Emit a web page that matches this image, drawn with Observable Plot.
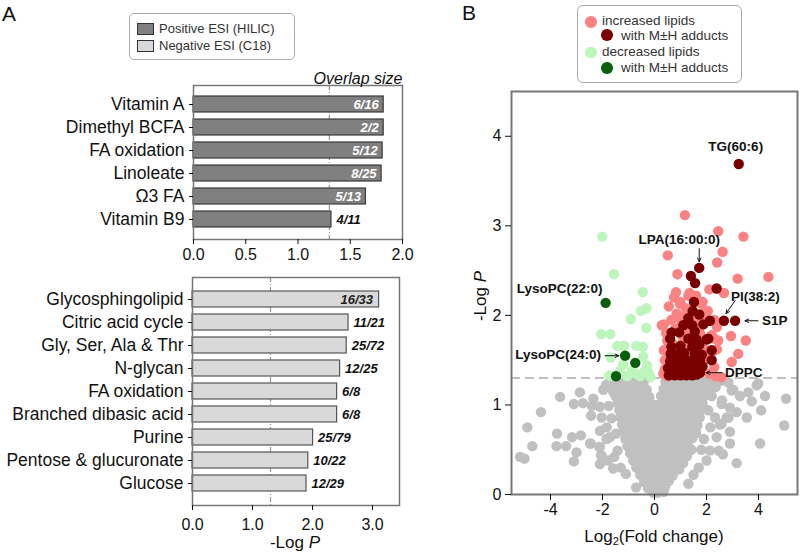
<!DOCTYPE html>
<html><head><meta charset="utf-8">
<script src="https://cdn.jsdelivr.net/npm/d3@7"></script>
<script src="https://cdn.jsdelivr.net/npm/@observablehq/plot@0.6"></script>
<style>
body{margin:0;background:#fff;font-family:Arial,"Liberation Sans",sans-serif;color:#111;}
#root{position:relative;width:800px;height:554px;overflow:hidden;background:#fff;}
.abs{position:absolute;white-space:nowrap;line-height:1;}
.box{position:absolute;border:1px solid #aaa;border-radius:6px;background:#fff;}
.sw{position:absolute;border:1px solid #333;}
.dotl{position:absolute;border-radius:50%;}
</style></head><body><div id="root"></div>
<script>
// ---------- Panel A data ----------
const posCategories = ["Vitamin A","Dimethyl BCFA","FA oxidation","Linoleate","Ω3 FA","Vitamin B9"];
const posValues = [1.82,1.82,1.81,1.80,1.65,1.32];
const posOverlap = ["6/16","2/2","5/12","8/25","5/13","4/11"];
const negCategories = ["Glycosphingolipid","Citric acid cycle","Gly, Ser, Ala & Thr","N-glycan","FA oxidation","Branched dibasic acid","Purine","Pentose & glucuronate","Glucose"];
const negValues = [3.11,2.60,2.57,2.46,2.41,2.41,2.01,1.93,1.90];
const negOverlap = ["16/33","11/21","25/72","12/25","6/8","6/8","25/79","10/22","12/29"];
const threshold = 1.3;
const posTicks = [0,0.5,1,1.5,2];
const negTicks = [0,1,2,3];

// ---------- Panel B data (log2 fold change, -log P) ----------
const increasedLipids = [[1.17,3.12],[2.45,2.94],[3.42,2.88],[2.62,2.71],[0.51,2.67],[2.41,2.59],[0.88,2.46],[3.2,2.41],[4.38,2.43],[0.83,2.26],[2.11,2.29],[2.67,2.25],[1.3,2.22],[0.98,2.13],[1.81,2.13],[0.85,2.02],[1.87,2.02],[0.36,1.9],[0.28,1.89],[2.4,1.87],[2.94,1.77],[3.51,1.72],[3.22,1.57],[2.97,1.48],[2.58,1.31],[2.13,1.53],[0.34,1.35],[0.49,1.72],[0.36,1.61],[2.3,1.74],[2.4,1.62],[0.55,2.1],[0.75,2.2],[1.0,2.15],[1.2,2.08],[1.35,2.25],[1.6,2.22],[1.85,2.15],[2.05,2.05],[0.65,1.95],[0.9,1.98],[1.2,2.0],[1.6,1.95],[1.95,1.98],[2.3,1.95],[0.45,1.8],[0.8,1.85],[1.35,1.82],[1.75,1.8],[2.2,1.78],[2.45,1.72],[0.45,1.62],[0.7,1.68],[1.1,1.7],[1.5,1.7],[1.95,1.62],[2.25,1.6],[0.4,1.5],[0.65,1.52],[1.4,1.55],[1.95,1.5],[2.3,1.42],[0.4,1.4],[2.1,1.35],[0.5,1.32],[2.35,1.32],[1.05,1.78],[0.85,1.62],[1.25,1.6],[1.65,1.6],[1.05,1.9],[1.7,1.88]];
const increasedAdducts = [[3.24,3.69],[1.72,2.53],[1.40,2.44],[1.56,2.36],[2.39,2.30],[1.52,2.15],[1.47,2.05],[1.72,2.01],[2.67,1.94],[3.10,1.94],[2.13,1.94],[1.88,1.90],[1.11,1.89],[0.66,1.81],[2.07,1.74],[2.2,1.61],[2.2,1.5],[1.75,1.36],
 [0.55,1.33],[0.78,1.33],[1.0,1.33],[1.22,1.33],[1.45,1.33],[1.62,1.34],
 [0.52,1.41],[0.74,1.41],[0.97,1.41],[1.2,1.41],[1.42,1.41],[1.65,1.42],[1.85,1.43],
 [0.6,1.49],[0.85,1.49],[1.08,1.49],[1.3,1.49],[1.55,1.49],[1.75,1.5],
 [0.62,1.57],[0.92,1.57],[1.15,1.58],[1.55,1.57],[1.82,1.56],
 [0.65,1.65],[1.0,1.66],[1.45,1.65],[1.72,1.67],
 [0.6,1.74],[1.3,1.74],[1.62,1.73],[2.0,1.73],
 [0.95,1.81],[1.55,1.82],[1.45,1.89],[1.3,1.97]];
const decreasedLipids = [[-2.01,2.88],[-1.56,2.46],[-0.45,2.26],[-0.31,2.08],[-0.52,2.05],[-0.91,1.96],[-0.32,1.86],[-2.05,1.79],[-1.7,1.79],[-1.43,1.66],[-1.17,1.66],[-0.7,1.66],[-0.45,1.65],[-0.44,1.54],[-1.68,1.53],[-0.37,1.38],[-1.66,1.32],[-1.32,1.38],[-0.87,1.38],[-0.23,1.36],[-0.71,1.35],[-0.29,1.44],[-1.74,1.33],[-0.55,1.32],[-1.05,1.32],[-0.15,1.31],[-1.2,1.45]];
const decreasedAdducts = [[-1.88,2.14],[-1.13,1.55],[-0.74,1.47],[-1.48,1.32]];
const unchanged = [
 [-1.72,1.26],[-1.45,1.27],[-1.2,1.25],[-0.95,1.26],[-0.68,1.27],[-0.42,1.25],[0.42,1.26],[0.66,1.27],[0.92,1.25],[1.18,1.26],[1.42,1.27],[1.68,1.25],[1.95,1.26],[2.22,1.27],
 [-1.6,1.18],[-1.33,1.19],[-1.05,1.17],[-0.8,1.18],[-0.52,1.19],[-0.3,1.17],[0.35,1.18],[0.55,1.19],[0.8,1.17],[1.05,1.18],[1.3,1.19],[1.55,1.17],[1.8,1.18],[2.05,1.19],
 [-1.5,1.10],[-1.25,1.11],[-0.98,1.09],[-0.72,1.10],[-0.45,1.11],[-0.2,1.09],[0.25,1.10],[0.48,1.11],[0.72,1.09],[0.98,1.10],[1.22,1.11],[1.48,1.09],[1.72,1.10],[1.95,1.11],
 [-1.42,1.02],[-1.15,1.03],[-0.9,1.01],[-0.63,1.02],[-0.38,1.03],[-0.12,1.01],[0.1,1.0],[0.35,1.02],[0.6,1.03],[0.86,1.01],[1.12,1.02],[1.38,1.03],[1.62,1.01],[1.85,1.02],
 [-1.35,0.94],[-1.1,0.95],[-0.84,0.93],[-0.58,0.94],[-0.32,0.95],[-0.06,0.93],[0.2,0.94],[0.46,0.95],[0.72,0.93],[0.98,0.94],[1.24,0.95],[1.5,0.93],[1.76,0.94],
 [-1.3,0.86],[-1.03,0.87],[-0.77,0.85],[-0.5,0.86],[-0.25,0.87],[0.02,0.85],[0.28,0.86],[0.55,0.87],[0.8,0.85],[1.06,0.86],[1.32,0.87],[1.56,0.85],[1.74,0.86],
 [-1.25,0.78],[-0.98,0.79],[-0.72,0.77],[-0.46,0.78],[-0.2,0.79],[0.07,0.77],[0.33,0.78],[0.6,0.79],[0.86,0.77],[1.12,0.78],[1.38,0.79],[1.65,0.77],
 [-1.2,0.70],[-0.93,0.71],[-0.66,0.69],[-0.4,0.70],[-0.14,0.71],[0.12,0.69],[0.38,0.70],[0.64,0.71],[0.9,0.69],[1.16,0.70],[1.4,0.71],[1.6,0.69],
 [-1.12,0.62],[-0.86,0.63],[-0.6,0.61],[-0.34,0.62],[-0.08,0.63],[0.18,0.61],[0.44,0.62],[0.7,0.63],[0.96,0.61],[1.2,0.62],[1.46,0.63],
 [-1.04,0.54],[-0.78,0.55],[-0.52,0.53],[-0.26,0.54],[0.0,0.55],[0.26,0.53],[0.52,0.54],[0.78,0.55],[1.04,0.53],[1.3,0.54],[1.42,0.5],
 [-0.94,0.46],[-0.68,0.47],[-0.42,0.45],[-0.16,0.46],[0.1,0.47],[0.36,0.45],[0.62,0.46],[0.88,0.47],[1.1,0.45],[1.25,0.43],
 [-0.82,0.38],[-0.56,0.39],[-0.3,0.37],[-0.04,0.38],[0.22,0.39],[0.48,0.37],[0.74,0.38],[0.98,0.39],[1.1,0.35],
 [-0.7,0.30],[-0.45,0.31],[-0.2,0.29],[0.06,0.30],[0.32,0.31],[0.58,0.29],[0.84,0.30],[0.95,0.28],
 [-0.55,0.22],[-0.3,0.23],[-0.05,0.21],[0.2,0.22],[0.45,0.23],[0.7,0.21],
 [-0.4,0.14],[-0.16,0.15],[0.08,0.13],[0.32,0.14],[0.55,0.15],
 [-0.25,0.07],[0.0,0.08],[0.22,0.06],[0.4,0.08],[-0.05,0.02],[0.12,0.02],[0.35,0.03],
 [-5.17,0.42],[-5.0,0.40],[-4.89,0.75],[-4.7,0.54],[-4.37,0.92],[-3.63,1.09],[-3.75,0.68],[-3.77,0.54],[-3.4,0.54],[-3.17,0.64],[-3.1,0.37],[-3.0,0.47],[-2.83,0.66],[-2.87,1.14],[-3.1,1.01],[-2.45,0.57],[-2.12,0.53],[-2.06,0.44],
 [-2.75,1.02],[-2.41,0.99],[-2.35,1.07],[-1.97,1.17],[-1.87,1.22],[-2.1,0.98],[-2.44,0.88],[-2.03,0.86],[-1.76,0.99],[-1.58,1.14],[-1.84,0.75],[-2.1,0.71],[-1.71,0.64],[-2.1,0.53],[-2.03,0.43],[-2.1,0.34],[-1.78,0.38],[-1.59,0.29],[-1.84,0.62],[-1.48,0.68],[-1.42,0.49],[-1.1,0.23],[-0.71,0.08],[-1.65,0.85],[-1.55,0.42],[-1.3,0.3],[-2.48,0.57],
 [2.55,1.27],[3.03,1.17],[3.29,1.10],[3.74,1.04],[3.99,1.24],[4.25,1.10],[5.06,1.07],[4.1,0.94],[3.55,0.86],[4.99,0.77],[2.9,0.97],[2.6,1.05],[2.85,0.86],[2.52,0.78],[2.9,0.57],[4.06,0.57],[3.16,0.35],[2.47,0.49],[2.63,0.45],[2.84,1.25],[2.97,1.16],[3.61,1.14],[3.93,1.22],
 [2.07,0.94],[2.33,0.86],[2.58,1.01],[3.16,0.92],[2.78,0.86],[2.58,0.79],[2.9,0.70],[2.39,0.64],[2.13,0.49],[2.0,0.38],[1.9,0.62],[2.2,1.1],[2.35,1.2],[1.7,0.3],[1.5,0.22],[1.3,0.12],[2.15,0.75],[1.8,0.5]];
const labelNames = ["TG(60:6)","LPA(16:00:0)","LysoPC(22:0)","PI(38:2)","S1P","LysoPC(24:0)","DPPC"];
const labelX = [3.24,1.72,-1.88,2.67,3.10,-1.13,1.75];
const labelY = [3.69,2.53,2.14,1.94,1.94,1.55,1.36];

// ---------- helpers ----------
const root = document.getElementById("root");
function place(node, left, top){
  const d = document.createElement("div");
  d.style.position = "absolute"; d.style.left = left+"px"; d.style.top = top+"px";
  d.appendChild(node); root.appendChild(d); return d;
}
function html(s, left, top, style){
  const d = document.createElement("div");
  d.className = "abs"; d.innerHTML = s;
  d.style.left = left+"px"; d.style.top = top+"px";
  Object.assign(d.style, style||{});
  root.appendChild(d); return d;
}
const font = "Arial, 'Liberation Sans', sans-serif";
const baseStyle = {fontFamily: font, background: "transparent", color: "#111", overflow: "visible"};

// ---------- Panel A: positive ESI ----------
const posData = posCategories.map((c,i)=>({pathway:c, value:posValues[i], overlap:posOverlap[i]}));
const posChart = Plot.plot({
  width: 420, height: 208, marginLeft: 193, marginRight: 18, marginTop: 23, marginBottom: 31,
  style: baseStyle,
  x: {domain: [0, 2]},
  y: {domain: posCategories, padding: 0.3, insetTop: 4, insetBottom: 4},
  marks: [
    Plot.ruleX([threshold], {stroke: "#999", strokeDasharray: "5,2,1,2", strokeWidth: 1.2}),
    Plot.barX(posData, {y: "pathway", x: "value", fill: "#808080", stroke: "#3a3a3a", strokeWidth: 1.2}),
    Plot.text(posData.filter(d => d.value >= 1.6), {y: "pathway", x: "value", text: "overlap", textAnchor: "end", dx: -5, fill: "white", fontWeight: "bold", fontStyle: "italic", fontSize: 13}),
    Plot.text(posData.filter(d => d.value < 1.6), {y: "pathway", x: "value", text: "overlap", textAnchor: "start", dx: 5, fill: "#111", fontWeight: "bold", fontStyle: "italic", fontSize: 13}),
    Plot.frame({stroke: "#777", strokeWidth: 1.5}),
    Plot.axisX({ticks: posTicks, tickFormat: d3.format(".1f"), tickSize: 5, tickPadding: 4, fontSize: 16, label: null}),
    Plot.axisY({tickSize: 4, tickPadding: 5, fontSize: 17.5, label: null}),
    Plot.text(["Overlap size"], {text: d => d, frameAnchor: "top-right", textAnchor: "end", lineAnchor: "bottom", dy: -2, fontStyle: "italic", fontSize: 16})
  ]
});
place(posChart, 0, 62);

// ---------- Panel A: negative ESI ----------
const negData = negCategories.map((c,i)=>({pathway:c, value:negValues[i], overlap:negOverlap[i]}));
const negChart = Plot.plot({
  width: 420, height: 299, marginLeft: 192, marginRight: 21, marginTop: 22, marginBottom: 49,
  style: baseStyle,
  x: {domain: [0, 3.45]},
  y: {domain: negCategories, padding: 0.3, insetTop: 6, insetBottom: 6},
  marks: [
    Plot.ruleX([threshold], {stroke: "#999", strokeDasharray: "5,2,1,2", strokeWidth: 1.2}),
    Plot.barX(negData, {y: "pathway", x: "value", fill: "#d9d9d9", stroke: "#555", strokeWidth: 1.2}),
    Plot.text(negData.filter(d => d.value >= 3), {y: "pathway", x: "value", text: "overlap", textAnchor: "end", dx: -6, fill: "#222", fontWeight: "bold", fontStyle: "italic", fontSize: 13}),
    Plot.text(negData.filter(d => d.value < 3), {y: "pathway", x: "value", text: "overlap", textAnchor: "start", dx: 5, fill: "#111", fontWeight: "bold", fontStyle: "italic", fontSize: 13}),
    Plot.frame({stroke: "#777", strokeWidth: 1.5}),
    Plot.axisX({ticks: negTicks, tickFormat: d3.format(".1f"), tickSize: 5, tickPadding: 8, fontSize: 16, label: null}),
    Plot.axisY({tickSize: 4, tickPadding: 5, fontSize: 17.5, label: null})
  ]
});
place(negChart, 0, 255);

// ---------- Panel B: volcano ----------
const pts = (arr) => arr.map(([x,y]) => ({x, y}));
const labels = labelNames.map((n,i)=>({name:n, x:labelX[i], y:labelY[i]}));
const lab = (name) => labels.filter(d => d.name === name);
const arrows = [
  {x1: labelX[1], y1: labelY[1] + 0.215, x2: labelX[1], y2: labelY[1] + 0.07},
  {x1: labelX[3] + 0.43, y1: labelY[3] + 0.225, x2: labelX[3] + 0.08, y2: labelY[3] + 0.08},
  {x1: labelX[4] + 0.88, y1: labelY[4], x2: labelX[4] + 0.38, y2: labelY[4]},
  {x1: labelX[5] - 0.77, y1: labelY[5], x2: labelX[5] - 0.24, y2: labelY[5]},
  {x1: labelX[6] + 0.85, y1: labelY[6], x2: labelX[6] + 0.23, y2: labelY[6]}
];
const labFont = {fontWeight: "bold", fontSize: 13.5, fill: "#111"};
const volcano = Plot.plot({
  width: 340, height: 474, marginLeft: 51, marginRight: 3, marginTop: 11, marginBottom: 60,
  style: baseStyle,
  x: {domain: [-5.5, 5.5]},
  y: {domain: [0, 4.5]},
  marks: [
    Plot.ruleY([threshold], {stroke: "#aaa", strokeDasharray: "9,5", strokeWidth: 1.5}),
    Plot.dot(pts(unchanged), {x: "x", y: "y", r: 5.2, fill: "#c0c0c0"}),
    Plot.dot(pts(decreasedLipids), {x: "x", y: "y", r: 5.2, fill: "#bdf5bd"}),
    Plot.dot(pts(increasedLipids), {x: "x", y: "y", r: 5.2, fill: "#fa8282"}),
    Plot.dot(pts(decreasedAdducts), {x: "x", y: "y", r: 5.2, fill: "#0b5e0b"}),
    Plot.dot(pts(increasedAdducts), {x: "x", y: "y", r: 5.2, fill: "#7a0000"}),
    Plot.arrow(arrows, {x1: "x1", y1: "y1", x2: "x2", y2: "y2", stroke: "#111", strokeWidth: 1, headLength: 6, headAngle: 50}),
    Plot.text(lab("TG(60:6)"), {x: "x", y: "y", text: "name", dx: -3, dy: -17, ...labFont}),
    Plot.text(lab("LPA(16:00:0)"), {x: "x", y: "y", text: "name", dx: -20, dy: -28, ...labFont}),
    Plot.text(lab("LysoPC(22:0)"), {x: "x", y: "y", text: "name", textAnchor: "end", dx: -3, dy: -14, ...labFont}),
    Plot.text(lab("PI(38:2)"), {x: "x", y: "y", text: "name", textAnchor: "start", dx: 7, dy: -24, ...labFont}),
    Plot.text(lab("S1P"), {x: "x", y: "y", text: "name", textAnchor: "start", dx: 27, dy: 0, ...labFont}),
    Plot.text(lab("LysoPC(24:0)"), {x: "x", y: "y", text: "name", textAnchor: "end", dx: -24, dy: -1, ...labFont}),
    Plot.text(lab("DPPC"), {x: "x", y: "y", text: "name", textAnchor: "start", dx: 25, dy: 0, ...labFont}),
    Plot.frame({stroke: "#777", strokeWidth: 2}),
    Plot.axisX({ticks: [-4,-2,0,2,4], tickFormat: d => String(d), tickSize: 6, tickPadding: 3, fontSize: 16, label: null}),
    Plot.axisY({ticks: [0,1,2,3,4], tickFormat: d => String(d), tickSize: 6, tickPadding: 4, fontSize: 16, label: null})
  ]
});
place(volcano, 460, 80);

// ---------- text / legends ----------
html("A", 2, 3, {fontSize: "21px"});
html("B", 462, 2, {fontSize: "21px"});
html("-Log <i>P</i>", 195, 534, {fontSize: "17px", width: "200px", textAlign: "center"});
html("Log<sub style='font-size:11px;vertical-align:-3px'>2</sub>(Fold change)", 554, 528, {fontSize: "17px", width: "200px", textAlign: "center"});
html("-Log <i>P</i>", 441, 286, {fontSize: "17px", width: "80px", height: "20px", lineHeight: "20px", textAlign: "center", transform: "rotate(-90deg)"});

// legend A
const boxA = document.createElement("div"); boxA.className = "box";
Object.assign(boxA.style, {left: "129px", top: "13px", width: "164px", height: "45px", borderRadius: "5px"});
root.appendChild(boxA);
const sw1 = document.createElement("div"); sw1.className = "sw";
Object.assign(sw1.style, {left: "137px", top: "23px", width: "15px", height: "10px", background: "#808080"});
root.appendChild(sw1);
const sw2 = document.createElement("div"); sw2.className = "sw";
Object.assign(sw2.style, {left: "137px", top: "40px", width: "15px", height: "10px", background: "#d9d9d9"});
root.appendChild(sw2);
html("Positive ESI (HILIC)", 159, 22, {fontSize: "13px", color: "#333"});
html("Negative ESI (C18)", 159, 39, {fontSize: "13px", color: "#333"});

// legend B
const boxB = document.createElement("div"); boxB.className = "box";
Object.assign(boxB.style, {left: "577px", top: "5px", width: "163px", height: "76px"});
root.appendChild(boxB);
const legDots = [["#fa8282",591,22],["#7a0000",607,35],["#bdf5bd",591,52.5],["#0b5e0b",607,68]];
legDots.forEach(([c,x,y]) => {
  const d = document.createElement("div"); d.className = "dotl";
  Object.assign(d.style, {left: (x-5.8)+"px", top: (y-5.8)+"px", width: "11.6px", height: "11.6px", background: c});
  root.appendChild(d);
});
html("increased lipids", 602, 14, {fontSize: "13.5px", color: "#333"});
html("with M±H adducts", 621, 28.5, {fontSize: "13.5px", color: "#333"});
html("decreased lipids", 602, 45, {fontSize: "13.5px", color: "#333"});
html("with M±H adducts", 621, 61, {fontSize: "13.5px", color: "#333"});
</script></body></html>
